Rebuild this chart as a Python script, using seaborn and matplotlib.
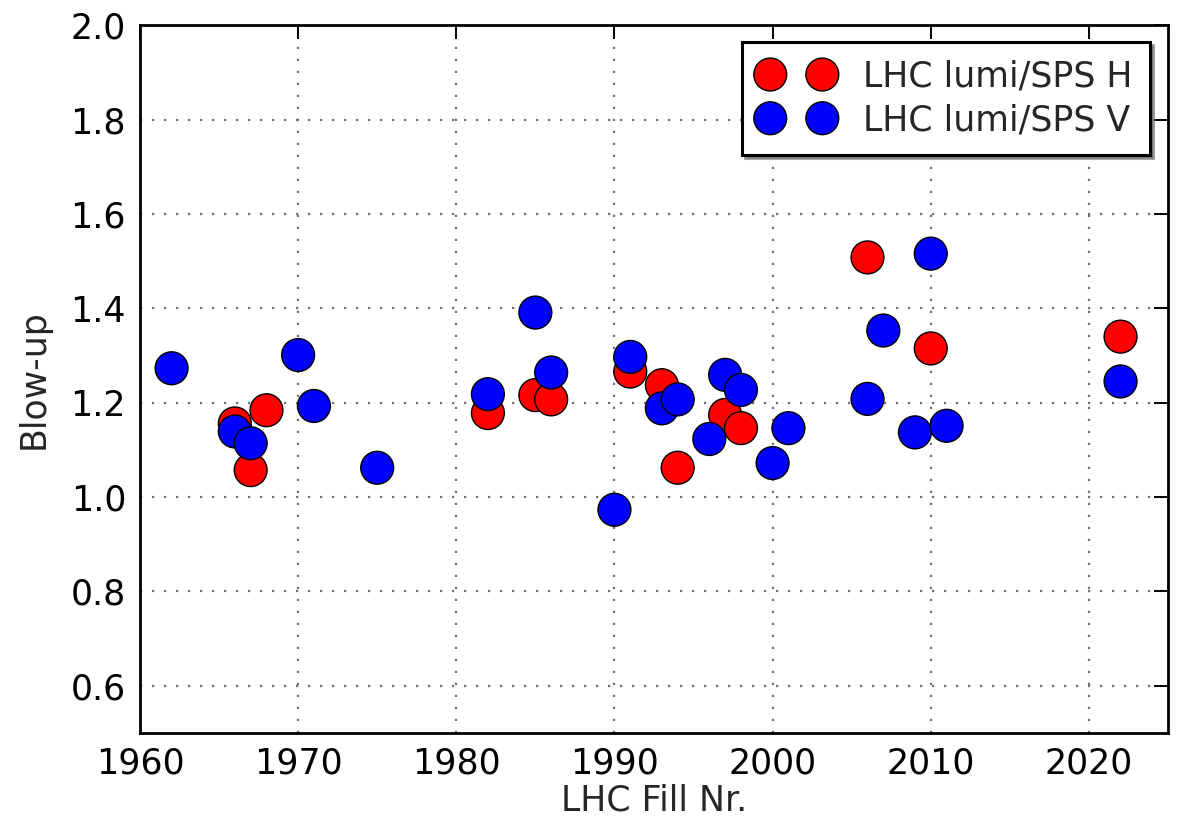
import matplotlib
matplotlib.use("Agg")
import matplotlib.pyplot as plt
import seaborn as sns
import pandas as pd

# Blow-up ratio LHC lumi / SPS, per fill, horizontal plane
fills_h = [1966, 1967, 1968, 1982, 1985, 1986, 1991, 1993, 1994, 1997, 1998, 2006, 2010, 2022]
blowup_h = [1.156, 1.057, 1.184, 1.178, 1.216, 1.207, 1.266, 1.237, 1.062, 1.174, 1.146, 1.508, 1.315, 1.340]

# vertical plane
fills_v = [1962, 1966, 1967, 1970, 1971, 1975, 1982, 1985, 1986, 1990, 1991, 1993, 1994,
           1996, 1997, 1998, 2000, 2001, 2006, 2007, 2009, 2010, 2011, 2022]
blowup_v = [1.273, 1.139, 1.114, 1.301, 1.193, 1.062, 1.218, 1.391, 1.264, 0.973, 1.297, 1.188, 1.207,
            1.123, 1.259, 1.227, 1.072, 1.146, 1.208, 1.353, 1.137, 1.516, 1.151, 1.245]

series_labels = ["LHC lumi/SPS H", "LHC lumi/SPS V"]
series_colors = ["#ff0000", "#0000ff"]

x_ticks = [1960, 1970, 1980, 1990, 2000, 2010, 2020]
y_ticks = [0.6, 0.8, 1.0, 1.2, 1.4, 1.6, 1.8, 2.0]

df = pd.concat([
    pd.DataFrame({"fill": fills_h, "blowup": blowup_h, "series": series_labels[0]}),
    pd.DataFrame({"fill": fills_v, "blowup": blowup_v, "series": series_labels[1]}),
], ignore_index=True)

sns.set_style("white")
plt.rcParams["font.family"] = ["DejaVu Sans"]

FS = 25

fig = plt.figure(figsize=(11.81, 8.17), dpi=100)
ax = fig.add_axes([0.1185, 0.103, 0.8705, 0.866])

sns.scatterplot(data=df, x="fill", y="blowup", hue="series", hue_order=series_labels,
                palette=series_colors, s=560, edgecolor="black", linewidth=1.0,
                alpha=1.0, ax=ax, legend=False, zorder=3)

ax.set_xlim(1960, 2025)
ax.set_ylim(0.5, 2.0)
ax.set_xticks(x_ticks)
ax.set_yticks(y_ticks)
ax.set_xticklabels([str(t) for t in x_ticks])
ax.set_yticklabels([f"{t:.1f}" for t in y_ticks])

ax.grid(True, color="#707070", linestyle=(0, (1, 4.4)), linewidth=1.6, zorder=0)
ax.set_axisbelow(True)
ax.tick_params(axis="both", which="major", direction="in", length=10, width=1.4,
               top=True, right=True, labelsize=FS, pad=10, colors="black")
for sp in ax.spines.values():
    sp.set_visible(True)
    sp.set_color("black")
    sp.set_linewidth(2.0)

ax.set_xlabel("LHC Fill Nr.", fontsize=FS, labelpad=2)
ax.set_ylabel("Blow-up", fontsize=FS, labelpad=14)

handles = [ax.scatter([], [], s=560, color=c, edgecolor="black", linewidth=1.0)
           for c in series_colors]
leg = ax.legend(handles, series_labels, loc="upper right", scatterpoints=2,
                scatteryoffsets=[0.5], fontsize=FS, frameon=True, fancybox=False,
                shadow=True, borderpad=0.5, handletextpad=0.88, labelspacing=0.28,
                handlelength=2.1, borderaxespad=0.0,
                bbox_to_anchor=(0.9825, 0.976))
leg.get_frame().set_edgecolor("black")
leg.get_frame().set_linewidth(2.2)

fig.savefig("out.png", dpi=100, facecolor="white")
